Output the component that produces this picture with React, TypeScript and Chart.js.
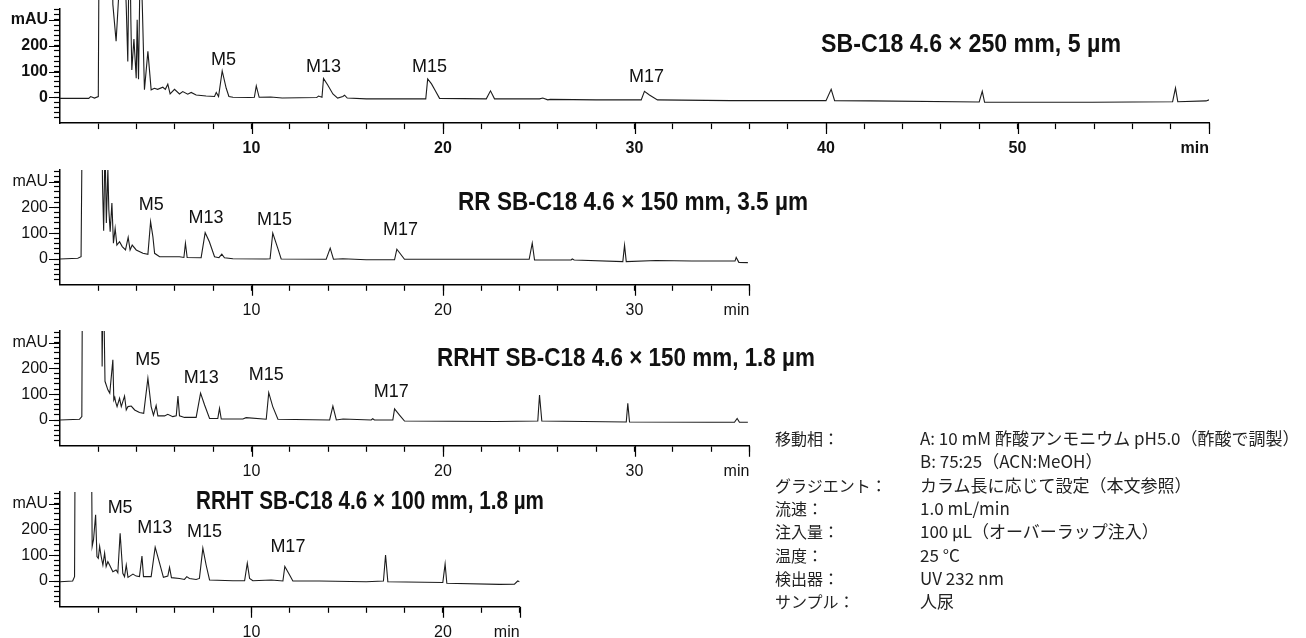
import React, { useEffect, useLayoutEffect, useRef } from 'react';
import { Chart, registerables } from 'chart.js';

Chart.register(...registerables);

// ---------- DATA (retention time in min, absorbance in mAU) ----------
const sbTimes = [0, 1.5, 1.6, 1.8, 2.0, 2.1, 2.6, 2.76, 2.93, 3.07, 3.2, 3.46, 3.54, 3.63, 3.7, 3.75, 3.86, 3.98, 4.03, 4.1, 4.2, 4.3, 4.41, 4.59, 4.76, 4.93, 5.1, 5.37, 5.5, 5.63, 5.75, 5.98, 6.24, 6.41, 6.67, 6.85, 7.11, 7.63, 8.07, 8.16, 8.28, 8.47, 8.68, 8.82, 9.03, 9.9, 10.15, 10.25, 10.4, 11.0, 11.6, 13.4, 13.5, 13.68, 13.76, 13.98, 14.25, 14.5, 14.77, 14.86, 15.0, 16.0, 19.1, 19.2, 19.4, 19.6, 19.82, 22.26, 22.48, 22.69, 25.04, 25.21, 25.47, 25.6, 28.0, 30.35, 30.52, 30.78, 31.2, 35.0, 40.0, 40.27, 40.45, 42.3, 48.0, 48.16, 48.28, 53.9, 58.1, 58.25, 58.37, 59.85, 60];
const sbMau = [-4, -4, 3, -3, 3, 1500, 1500, 360, 217, 400, 900, 350, 139, 700, 300, 106, 226, 74, 301, 70, 600, 350, 29, 178, 29, 35, 31, 39, 31, 51, 13, 31, 13, 22, 12, 19, 9, 5, 3, 19, 3, 102, 35, 3, 0, -1, 0, 44, 0, 1, -3, -1, 5, 0, 73, 48, 13, -3, 3, 8, -3, -6, -6, 71, 52, 25, -4, -6, 25, -6, -6, -3, -10, -8, -10, -10, 23, 9, -10, -13, -13, 31, -13, -14, -18, 23, -19, -19, -17, 36, -17, -14, -10];

const rrTimes = [0, 0.93, 1.1, 1.19, 1.3, 2.1, 2.22, 2.28, 2.35, 2.42, 2.5, 2.55, 2.62, 2.71, 2.79, 2.88, 2.97, 3.11, 3.25, 3.42, 3.56, 3.66, 3.77, 3.98, 4.33, 4.59, 4.73, 4.85, 4.94, 5.2, 6.24, 6.47, 6.55, 6.64, 7.37, 7.58, 7.8, 8.07, 8.3, 8.45, 8.59, 9.03, 10.76, 10.97, 11.11, 11.37, 11.55, 13.9, 14.11, 14.28, 14.77, 15.99, 17.47, 17.59, 17.99, 24.5, 24.66, 24.78, 26.69, 26.75, 26.85, 29.39, 29.48, 29.57, 31.13, 33.0, 35.25, 35.31, 35.45, 35.92];
const rrMau = [0, 3, 9, 800, 1500, 1200, 288, 110, 450, 140, 350, 191, 106, 217, 61, 119, 54, 67, 48, 35, 84, 35, 54, 35, 22, 18, 145, 87, 22, 9, 9, 6, 61, 6, 5, 102, 67, 9, 5, 19, 5, 1, 0, 1, 100, 42, 0, -1, 42, -1, 1, -3, -3, 38, -1, -1, 61, -4, -4, 0, -4, -10, 53, -10, -6, -8, -8, 6, -13, -14];

const rrht150Times = [0, 1.02, 1.14, 1.19, 1.3, 2.1, 2.2, 2.26, 2.35, 2.5, 2.6, 2.76, 2.81, 2.86, 2.9, 2.98, 3.11, 3.2, 3.37, 3.46, 3.55, 3.72, 3.9, 4.15, 4.37, 4.59, 4.76, 4.88, 5.02, 5.11, 5.46, 5.63, 5.89, 6.07, 6.16, 6.24, 6.5, 7.11, 7.34, 7.55, 7.81, 8.24, 8.33, 8.42, 9.55, 9.72, 10.77, 10.9, 11.11, 11.38, 14.08, 14.25, 14.43, 14.78, 16.25, 16.33, 16.42, 17.38, 17.47, 17.73, 17.99, 22.78, 24.95, 25.04, 25.16, 29.57, 29.65, 29.74, 33.92, 35.22, 35.36, 35.48, 35.92];
const rrht150Mau = [0, 3, 13, 900, 1500, 1500, 207, 600, 150, 117, 104, 233, 78, 88, 71, 52, 84, 52, 93, 39, 52, 54, 39, 29, 26, 162, 52, 19, 56, 16, 16, 22, 13, 16, 93, 16, 10, 10, 104, 58, 6, 6, 45, 4, 4, 9, 3, 106, 52, 3, 0, 54, 0, 4, 0, 5, 0, 0, 43, 19, -4, -6, -4, 97, -4, -8, 65, -8, -9, -9, 6, -9, -9];

const rrht100Times = [0, 0.66, 0.76, 0.81, 0.9, 1.55, 1.68, 1.75, 1.86, 1.93, 2.0, 2.07, 2.15, 2.24, 2.33, 2.41, 2.5, 2.59, 2.76, 2.93, 3.02, 3.14, 3.28, 3.37, 3.46, 3.55, 3.81, 3.98, 4.15, 4.28, 4.36, 4.76, 4.97, 5.2, 5.4, 5.63, 5.72, 5.82, 6.24, 6.5, 6.62, 6.76, 7.11, 7.28, 7.46, 7.63, 7.81, 9.03, 9.64, 9.78, 9.9, 10.07, 11.03, 11.64, 11.74, 11.99, 12.16, 13.55, 15.99, 16.89, 17.0, 17.12, 19.99, 20.11, 20.2, 22.95, 23.73, 23.9, 24];
const rrht100Mau = [-3, 0, 17, 900, 1500, 1500, 134, 160, 257, 95, 88, 134, 95, 62, 108, 56, 75, 62, 36, 43, 32, 185, 30, 17, 62, 14, 27, 19, 17, 97, 17, 17, 131, 69, 14, 19, 53, 13, 10, 6, 17, 10, 6, 10, 127, 62, 4, 1, 1, 69, 10, 1, 4, 0, 56, 23, 0, 0, -3, 0, 101, -3, -6, 66, -9, -13, -12, 0, -3];

const peakNames = ['M5', 'M13', 'M15', 'M17'];
const sbLabelTimes = [8.54, 13.76, 19.29, 30.63];
const sbLabelMau = [145, 117, 117, 79];
const rrLabelTimes = [4.76, 7.63, 11.2, 17.78];
const rrLabelMau = [209, 158, 151, 112];
const rrht150LabelTimes = [4.58, 7.37, 10.77, 17.3];
const rrht150LabelMau = [233, 164, 174, 110];
const rrht100LabelTimes = [3.14, 4.95, 7.55, 11.9];
const rrht100LabelMau = [282, 204, 191, 133];

const columnTitles = [
  'SB-C18 4.6 × 250 mm, 5 µm',
  'RR SB-C18 4.6 × 150 mm, 3.5 µm',
  'RRHT SB-C18 4.6 × 150 mm, 1.8 µm',
  'RRHT SB-C18 4.6 × 100 mm, 1.8 µm',
];
const runLengths = [60, 36, 36, 24];

const yTickValues = [0, 100, 200, 300];
const yTickLabels = ['0', '100', '200', 'mAU'];
const xUnitLabel = 'min';

const conditionKeys = ['移動相：', '', 'グラジエント：', '流速：', '注入量：', '温度：', '検出器：', 'サンプル：'];
const conditionValues = [
  'A: 10 mM 酢酸アンモニウム pH5.0（酢酸で調製）',
  'B: 75:25（ACN:MeOH）',
  'カラム長に応じて設定（本文参照）',
  '1.0 mL/min',
  '100 µL（オーバーラップ注入）',
  '25 °C',
  'UV 232 nm',
  '人尿',
];

// ---------- LAYOUT ----------
const PX_PER_MIN = 19.15;
const PX_PER_MAU = 0.258;
const Y_MIN = -100;
const Y_MAX = 345;
const AXIS_W = 60;
const XAXIS_H = 40;
const RIGHT_PAD = 30;
const SANS = '"Liberation Sans", Arial, sans-serif';
const CJK = '"Noto Sans CJK JP", sans-serif';

const majorTicks = {
  id: 'majorTicks',
  afterDraw(chart: any) {
    const { ctx, chartArea, scales } = chart;
    const xs = scales.x;
    const ys = scales.y;
    ctx.save();
    ctx.strokeStyle = '#000';
    ctx.lineWidth = 1.2;
    ctx.beginPath();
    const xmax = xs.max;
    for (let v = 10; v <= xmax; v += 10) {
      const px = Math.round(xs.getPixelForValue(v)) + 0.5;
      ctx.moveTo(px, chartArea.bottom);
      ctx.lineTo(px, chartArea.bottom + 11);
    }
    if (xmax % 10 !== 0) {
      const px = Math.round(xs.getPixelForValue(xmax)) + 0.5;
      ctx.moveTo(px, chartArea.bottom);
      ctx.lineTo(px, chartArea.bottom + 11);
    }
    for (const v of yTickValues) {
      const py = Math.round(ys.getPixelForValue(v)) + 0.5;
      ctx.moveTo(chartArea.left - 11, py);
      ctx.lineTo(chartArea.left, py);
    }
    ctx.stroke();
    ctx.restore();
  },
};

const peakLabels = {
  id: 'peakLabels',
  afterDatasetsDraw(chart: any, _args: any, opts: any) {
    const { ctx, scales } = chart;
    if (!opts || !opts.times) return;
    ctx.save();
    ctx.fillStyle = '#111';
    ctx.font = '18px ' + SANS;
    ctx.textAlign = 'center';
    ctx.textBaseline = 'middle';
    opts.times.forEach((t: number, i: number) => {
      ctx.fillText(opts.names[i], scales.x.getPixelForValue(t), scales.y.getPixelForValue(opts.mau[i]));
    });
    ctx.restore();
  },
};

type Spec = {
  times: number[];
  mau: number[];
  labelTimes: number[];
  labelMau: number[];
  xMax: number;
  zeroY: number;
  bold: boolean;
};

function ChromPanel({ spec }: { spec: Spec }) {
  const ref = useRef<HTMLCanvasElement | null>(null);
  const plotTop = spec.zeroY - Y_MAX * PX_PER_MAU;
  const plotH = (Y_MAX - Y_MIN) * PX_PER_MAU;
  const canvasTop = Math.max(0, Math.round(plotTop - 12));
  const padTop = plotTop - canvasTop;
  const canvasH = Math.ceil(padTop + plotH + XAXIS_H);
  const padBottom = canvasH - (padTop + plotH + XAXIS_H);
  const plotW = spec.xMax * PX_PER_MIN;
  const canvasW = Math.ceil(AXIS_W + plotW + RIGHT_PAD);
  const padRight = canvasW - (AXIS_W + plotW);

  useEffect(() => {
    if (!ref.current) return;
    const weight = spec.bold ? 'bold' : 'normal';
    const xTicks: number[] = [];
    for (let v = 0; v <= spec.xMax; v += 2) xTicks.push(v);
    const yTicks: number[] = [];
    for (let v = -80; v <= 340; v += 20) yTicks.push(v);
    const chart = new Chart(ref.current, {
      type: 'line',
      data: {
        datasets: [
          {
            data: spec.times.map((t, i) => ({ x: t, y: spec.mau[i] })),
            borderColor: '#1c1c1c',
            borderWidth: 1.1,
            pointRadius: 0,
            tension: 0,
            clip: spec.bold ? { left: 0, top: 12, right: 0, bottom: 0 } : undefined,
          } as any,
        ],
      },
      options: {
        responsive: false,
        animation: false,
        events: [],
        layout: { padding: { top: padTop, right: padRight, left: 0, bottom: padBottom } },
        plugins: {
          legend: { display: false },
          tooltip: { enabled: false },
          peakLabels: { names: peakNames, times: spec.labelTimes, mau: spec.labelMau },
        } as any,
        scales: {
          x: {
            type: 'linear',
            min: 0,
            max: spec.xMax,
            afterBuildTicks: (s: any) => {
              s.ticks = xTicks.map((v) => ({ value: v }));
            },
            afterFit: (s: any) => {
              s.height = XAXIS_H;
              s.paddingLeft = 0;
              s.paddingRight = 0;
            },
            ticks: {
              autoSkip: false,
              maxRotation: 0,
              minRotation: 0,
              align: 'inner',
              padding: 10,
              color: '#111',
              font: { family: SANS, size: 16, weight: weight as any },
              callback: (v: any) => {
                const n = Number(v);
                if (n === spec.xMax) return xUnitLabel;
                return n !== 0 && n % 10 === 0 ? String(n) : '';
              },
            },
            grid: {
              drawOnChartArea: false,
              drawTicks: true,
              tickLength: 6,
              tickWidth: 1.2,
              tickColor: (c: any) => (c.tick && c.tick.value === 0 ? 'rgba(0,0,0,0)' : '#000'),
            },
            border: { color: '#000', width: 1.5 },
          } as any,
          y: {
            type: 'linear',
            min: Y_MIN,
            max: Y_MAX,
            afterBuildTicks: (s: any) => {
              s.ticks = yTicks.map((v) => ({ value: v }));
            },
            afterFit: (s: any) => {
              s.width = AXIS_W;
              s.paddingTop = 0;
              s.paddingBottom = 0;
            },
            ticks: {
              autoSkip: false,
              padding: 6,
              color: '#111',
              font: { family: SANS, size: 16, weight: weight as any },
              callback: (v: any) => {
                const idx = yTickValues.indexOf(Number(v));
                return idx >= 0 ? yTickLabels[idx] : '';
              },
            },
            grid: {
              drawOnChartArea: false,
              drawTicks: true,
              tickLength: 6,
              tickWidth: 1.2,
              tickColor: '#000',
            },
            border: { color: '#000', width: 1.5 },
          } as any,
        },
      },
      plugins: [majorTicks, peakLabels],
    });
    return () => chart.destroy();
  }, []);

  return (
    <canvas
      ref={ref}
      width={canvasW}
      height={canvasH}
      style={{ position: 'absolute', left: 0, top: canvasTop, width: canvasW, height: canvasH }}
    />
  );
}

const specs: Spec[] = [
  { times: sbTimes, mau: sbMau, labelTimes: sbLabelTimes, labelMau: sbLabelMau, xMax: runLengths[0], zeroY: 97.3, bold: true },
  { times: rrTimes, mau: rrMau, labelTimes: rrLabelTimes, labelMau: rrLabelMau, xMax: runLengths[1], zeroY: 259, bold: false },
  { times: rrht150Times, mau: rrht150Mau, labelTimes: rrht150LabelTimes, labelMau: rrht150LabelMau, xMax: runLengths[2], zeroY: 420, bold: false },
  { times: rrht100Times, mau: rrht100Mau, labelTimes: rrht100LabelTimes, labelMau: rrht100LabelMau, xMax: runLengths[3], zeroY: 581, bold: false },
];

const titlePos = [
  { left: 821, cy: 43, w: 300 },
  { left: 458, cy: 201, w: 350 },
  { left: 437, cy: 357, w: 378 },
  { left: 196, cy: 500, w: 348 },
];

function CondensedTitle({ text, left, cy, w }: { text: string; left: number; cy: number; w: number }) {
  const ref = useRef<HTMLDivElement | null>(null);
  useLayoutEffect(() => {
    const el = ref.current;
    if (!el) return;
    el.style.transform = 'none';
    const natural = el.getBoundingClientRect().width;
    if (natural > 0) el.style.transform = `scaleX(${w / natural})`;
  }, [text, w]);
  return (
    <div
      ref={ref}
      style={{
        position: 'absolute',
        left,
        top: cy - 20,
        height: 40,
        lineHeight: '40px',
        fontFamily: SANS,
        fontWeight: 700,
        fontSize: 26,
        color: '#111',
        whiteSpace: 'nowrap',
        transformOrigin: '0 50%',
      }}
    >
      {text}
    </div>
  );
}

export default function App() {
  return (
    <div
      style={{
        position: 'absolute',
        left: 0,
        top: 0,
        width: 1306,
        height: 638,
        background: '#fff',
        overflow: 'hidden',
      }}
    >
      {specs.map((s, i) => (
        <ChromPanel key={i} spec={s} />
      ))}
      {columnTitles.map((t, i) => (
        <CondensedTitle key={'t' + i} text={t} left={titlePos[i].left} cy={titlePos[i].cy} w={titlePos[i].w} />
      ))}
      {conditionKeys.map((k, i) => (
        <React.Fragment key={'c' + i}>
          <div
            style={{
              position: 'absolute',
              left: 775,
              top: 438 + i * 23.3 - 12,
              height: 24,
              lineHeight: '24px',
              fontFamily: CJK,
              fontSize: 16,
              color: '#222',
              whiteSpace: 'nowrap',
            }}
          >
            {k}
          </div>
          <div
            style={{
              position: 'absolute',
              left: 920,
              top: 438 + i * 23.3 - 12,
              height: 24,
              lineHeight: '24px',
              fontFamily: CJK,
              fontSize: 17,
              color: '#222',
              whiteSpace: 'nowrap',
            }}
          >
            {conditionValues[i]}
          </div>
        </React.Fragment>
      ))}
    </div>
  );
}
